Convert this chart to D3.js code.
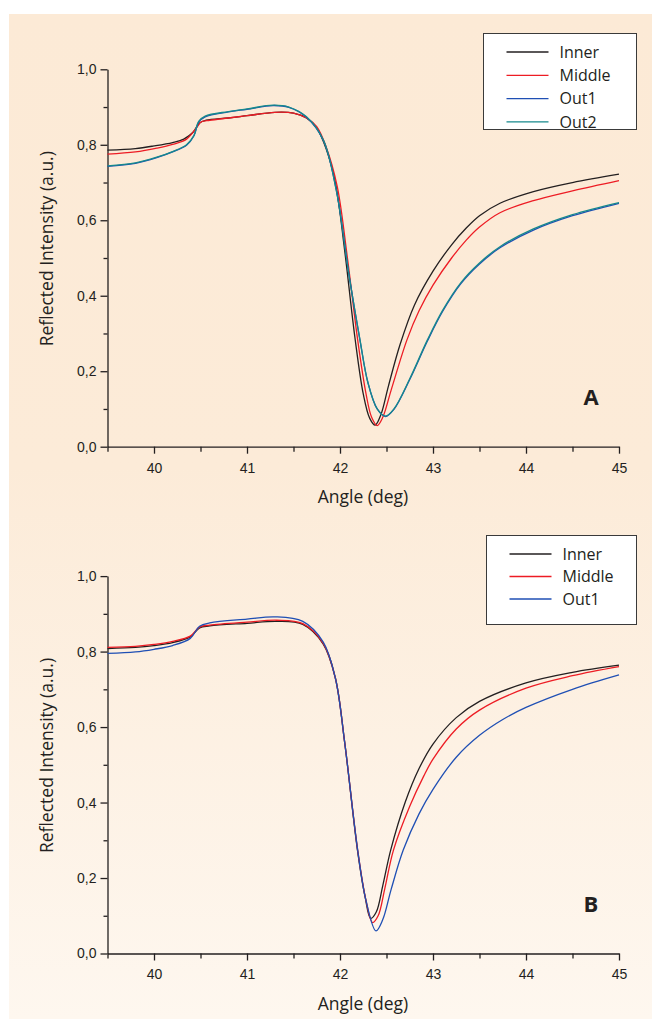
<!DOCTYPE html>
<html>
<head>
<meta charset="utf-8">
<script src="https://cdn.jsdelivr.net/npm/d3@7"></script>
<style>
  html, body { margin: 0; padding: 0; background: #ffffff; }
  svg { display: block; }
</style>
</head>
<body>
<div id="chart"></div>
<script>
// ---- data (angle in deg, reflected intensity in a.u.) ----
var innerA = [[39.5,0.786],[39.8,0.790],[40.0,0.797],[40.2,0.806],[40.32,0.815],[40.42,0.833],[40.49,0.858],[40.56,0.865],[40.8,0.871],[41.0,0.877],[41.3,0.886],[41.5,0.884],[41.64,0.871],[41.75,0.845],[41.85,0.79],[41.95,0.70],[42.05,0.52],[42.16,0.29],[42.25,0.14],[42.32,0.075],[42.378,0.057],[42.44,0.085],[42.52,0.16],[42.645,0.27],[42.8,0.375],[43.0,0.465],[43.2,0.535],[43.36,0.58],[43.5,0.612],[43.72,0.645],[44.08,0.676],[44.5,0.700],[45.0,0.722]];
var middleA = [[39.5,0.775],[39.8,0.781],[40.03,0.791],[40.2,0.801],[40.35,0.815],[40.46,0.846],[40.51,0.861],[40.6,0.865],[40.8,0.871],[41.0,0.877],[41.3,0.886],[41.5,0.884],[41.64,0.871],[41.75,0.848],[41.85,0.795],[41.97,0.69],[42.08,0.50],[42.19,0.283],[42.28,0.14],[42.34,0.078],[42.40,0.056],[42.46,0.078],[42.55,0.15],[42.72,0.283],[42.85,0.36],[43.0,0.428],[43.2,0.50],[43.36,0.548],[43.5,0.582],[43.72,0.620],[44.08,0.652],[44.5,0.678],[45.0,0.705]];
var out1A = [[39.5,0.743],[39.8,0.751],[40.03,0.766],[40.2,0.781],[40.35,0.799],[40.43,0.824],[40.48,0.860],[40.55,0.874],[40.8,0.887],[41.0,0.894],[41.28,0.904],[41.45,0.899],[41.64,0.873],[41.82,0.812],[41.96,0.68],[42.1,0.45],[42.215,0.282],[42.3,0.17],[42.4,0.10],[42.49,0.080],[42.58,0.099],[42.75,0.178],[42.94,0.280],[43.1,0.357],[43.3,0.432],[43.5,0.484],[43.72,0.527],[44.08,0.574],[44.5,0.612],[45.0,0.645]];
var out2A = [[39.5,0.744],[39.8,0.752],[40.03,0.767],[40.2,0.782],[40.35,0.800],[40.43,0.825],[40.48,0.862],[40.55,0.876],[40.8,0.888],[41.0,0.895],[41.28,0.905],[41.45,0.900],[41.64,0.874],[41.82,0.813],[41.96,0.68],[42.1,0.45],[42.215,0.283],[42.3,0.17],[42.4,0.10],[42.49,0.081],[42.58,0.10],[42.75,0.18],[42.94,0.283],[43.1,0.36],[43.3,0.435],[43.5,0.487],[43.72,0.530],[44.08,0.577],[44.5,0.615],[45.0,0.647]];

var innerB = [[39.5,0.808],[39.8,0.811],[40.0,0.816],[40.2,0.824],[40.39,0.839],[40.49,0.863],[40.6,0.868],[41.0,0.875],[41.32,0.880],[41.6,0.872],[41.82,0.82],[41.95,0.73],[42.05,0.56],[42.19,0.27],[42.27,0.15],[42.33,0.093],[42.39,0.11],[42.46,0.18],[42.545,0.274],[42.7,0.40],[42.85,0.49],[43.0,0.555],[43.25,0.625],[43.5,0.668],[44.0,0.717],[44.5,0.745],[45.0,0.764]];
var middleB = [[39.5,0.811],[39.8,0.814],[40.0,0.819],[40.2,0.827],[40.39,0.841],[40.49,0.865],[40.6,0.870],[41.0,0.878],[41.32,0.883],[41.6,0.874],[41.82,0.822],[41.95,0.73],[42.05,0.56],[42.19,0.274],[42.28,0.14],[42.35,0.082],[42.41,0.10],[42.48,0.17],[42.575,0.274],[42.75,0.39],[42.9,0.47],[43.0,0.515],[43.25,0.595],[43.5,0.645],[44.0,0.703],[44.5,0.736],[45.0,0.760]];
var out1B = [[39.5,0.795],[39.8,0.799],[40.0,0.806],[40.2,0.816],[40.39,0.835],[40.49,0.867],[40.6,0.876],[41.0,0.886],[41.3,0.892],[41.6,0.880],[41.82,0.825],[41.95,0.73],[42.05,0.56],[42.19,0.274],[42.28,0.14],[42.387,0.060],[42.46,0.09],[42.55,0.17],[42.68,0.274],[42.85,0.37],[43.0,0.435],[43.25,0.52],[43.5,0.578],[43.75,0.62],[44.0,0.652],[44.5,0.70],[45.0,0.738]];

var seriesColors = {"Inner": "#231f20", "Middle": "#ed1c24", "Out1": "#1f4fb4", "Out2": "#16898c"};

var xMajor = [40, 41, 42, 43, 44, 45];
var xMinor = [39.5, 40.5, 41.5, 42.5, 43.5, 44.5];
var yMajor = [0, 0.2, 0.4, 0.6, 0.8, 1.0];
var yMinor = [0.1, 0.3, 0.5, 0.7, 0.9];

var panels = [
    {label: "A", top: 69.3, bottom: 446.7, legend: {x: 483.5, y: 33.5, w: 153, h: 96, row: 23.3},
     series: [["Inner", innerA], ["Middle", middleA], ["Out1", out1A], ["Out2", out2A]]},
    {label: "B", top: 576.1, bottom: 953.5, legend: {x: 486.5, y: 535.5, w: 150, h: 89, row: 22.5},
     series: [["Inner", innerB], ["Middle", middleB], ["Out1", out1B]]}
];

var W = 652, H = 1019;
var svg = d3.select("#chart").append("svg")
    .attr("width", W).attr("height", H);

var grad = svg.append("defs").append("linearGradient")
    .attr("id", "bg").attr("x1", 0).attr("y1", 0).attr("x2", 0).attr("y2", 1);
grad.append("stop").attr("offset", "0").attr("stop-color", "#fcead6");
grad.append("stop").attr("offset", "0.45").attr("stop-color", "#fcebd8");
grad.append("stop").attr("offset", "1").attr("stop-color", "#fef7ef");

svg.append("rect")
    .attr("x", 9).attr("y", 14)
    .attr("width", W - 9).attr("height", H - 14)
    .attr("fill", "url(#bg)");

var x = d3.scaleLinear().domain([39.5, 45]).range([107.5, 619]);
var fmt = function (d) { return d3.format(".1f")(d).replace(".", ","); };

panels.forEach(function (p) {
    var y = d3.scaleLinear().domain([0, 1]).range([p.bottom, p.top]);
    var g = svg.append("g");

    // minor ticks
    g.append("g")
        .attr("transform", "translate(0," + p.bottom + ")")
        .call(d3.axisBottom(x).tickValues(xMinor).tickSize(5).tickFormat(""))
        .call(function (a) { a.select(".domain").remove(); });
    g.append("g")
        .attr("transform", "translate(" + x(39.5) + ",0)")
        .call(d3.axisLeft(y).tickValues(yMinor).tickSize(4).tickFormat(""))
        .call(function (a) { a.select(".domain").remove(); });

    // major axes
    g.append("g")
        .attr("transform", "translate(0," + p.bottom + ")")
        .call(d3.axisBottom(x).tickValues(xMajor).tickSize(7).tickSizeOuter(0).tickPadding(9).tickFormat(d3.format("d")));
    g.append("g")
        .attr("transform", "translate(" + x(39.5) + ",0)")
        .call(d3.axisLeft(y).tickValues(yMajor).tickSize(7).tickSizeOuter(0).tickPadding(4).tickFormat(fmt));

    g.selectAll(".domain, .tick line")
        .attr("stroke", "#231f20").attr("stroke-width", 1.3);
    g.selectAll(".tick text")
        .attr("fill", "#231f20")
        .style("font-family", "'Liberation Sans', Arial, sans-serif")
        .style("font-size", "14px");

    // axis titles
    g.append("text")
        .attr("x", 363).attr("y", p.bottom + 56)
        .attr("text-anchor", "middle")
        .attr("fill", "#231f20")
        .style("font-family", "'Open Sans', sans-serif")
        .style("font-size", "17.5px")
        .text("Angle (deg)");
    g.append("text")
        .attr("transform", "translate(53," + (p.bottom - 198) + ") rotate(-90)")
        .attr("text-anchor", "middle")
        .attr("fill", "#231f20")
        .style("font-family", "'Open Sans', sans-serif")
        .style("font-size", "17.5px")
        .text("Reflected Intensity (a.u.)");

    // curves
    var line = d3.line()
        .x(function (d) { return x(d[0]); })
        .y(function (d) { return y(d[1]); })
        .curve(d3.curveCatmullRom.alpha(0.5));

    g.selectAll(".curve")
        .data(p.series)
        .enter()
        .append("path")
        .attr("class", "curve")
        .attr("d", function (s) { return line(s[1]); })
        .attr("fill", "none")
        .attr("stroke", function (s) { return seriesColors[s[0]]; })
        .attr("stroke-width", 1.3);

    // panel letter
    g.append("text")
        .attr("x", 591).attr("y", p.bottom - 42)
        .attr("text-anchor", "middle")
        .attr("fill", "#231f20")
        .style("font-family", "'Open Sans', sans-serif")
        .style("font-weight", "bold")
        .style("font-size", "22px")
        .text(p.label);

    // legend
    var L = p.legend;
    var lg = g.append("g").attr("transform", "translate(" + L.x + "," + L.y + ")");
    lg.append("rect")
        .attr("width", L.w).attr("height", L.h)
        .attr("fill", "#ffffff")
        .attr("stroke", "#3a3a3a").attr("stroke-width", 1);
    var rows = lg.selectAll(".row")
        .data(p.series)
        .enter()
        .append("g")
        .attr("transform", function (s, i) { return "translate(0," + (18.5 + i * L.row) + ")"; });
    rows.append("line")
        .attr("x1", 23).attr("x2", 65)
        .attr("stroke", function (s) { return seriesColors[s[0]]; })
        .attr("stroke-width", 1.3);
    rows.append("text")
        .attr("x", 76).attr("y", 0)
        .attr("dy", "0.35em")
        .attr("fill", "#231f20")
        .style("font-family", "'Open Sans', sans-serif")
        .style("font-size", "16px")
        .text(function (s) { return s[0]; });
});
</script>
</body>
</html>
